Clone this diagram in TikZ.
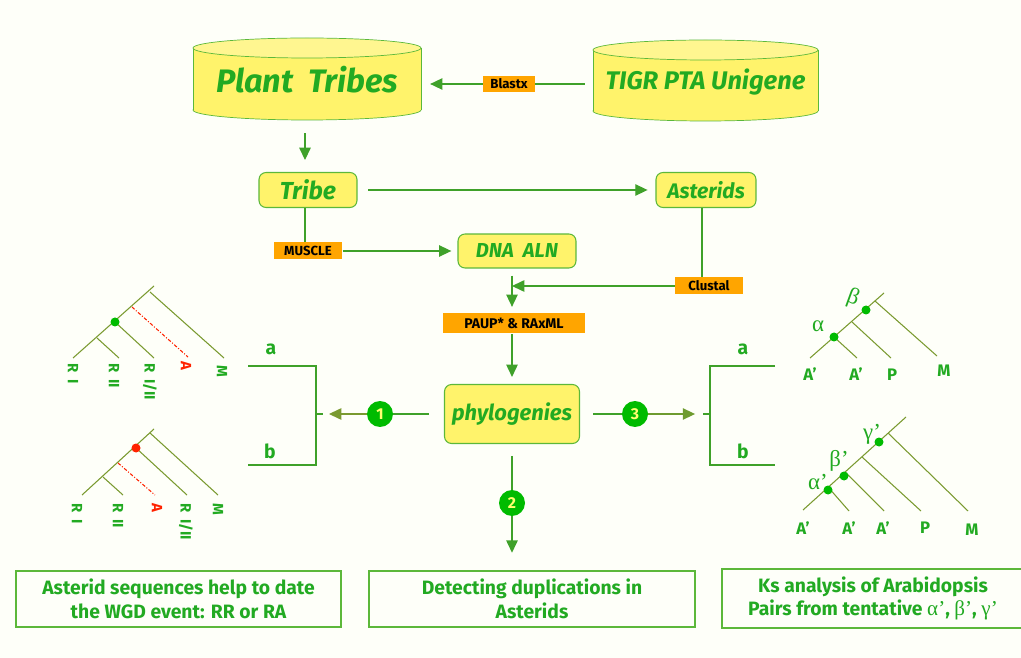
\documentclass[tikz,border=0pt]{standalone}
\usepackage{fontspec}
\setmainfont{Fira Sans}
\newfontfamily\greekfont{Liberation Serif}
\usetikzlibrary{arrows.meta}

\definecolor{bgcream}{HTML}{FEFFF9}
\definecolor{boxyellow}{HTML}{FFF36B}
\definecolor{boxedge}{HTML}{5CB83A}
\definecolor{txtgreen}{HTML}{22AA22}
\definecolor{flowgreen}{HTML}{3FA12A}
\definecolor{treeolive}{HTML}{7A9A30}
\definecolor{tagorange}{HTML}{FFA500}
\definecolor{dotgreen}{HTML}{00BB00}
\definecolor{dotred}{HTML}{FF2200}
\definecolor{numyellow}{HTML}{FFFF70}

\tikzset{
  title/.style={font=\bfseries\itshape, text=txtgreen},
  block/.style={title, draw=boxedge, fill=boxyellow, rounded corners=4pt, line width=0.6pt},
  tag/.style={fill=tagorange, text=black, font=\bfseries\fontsize{7.5}{9}\selectfont, inner sep=0pt},
  wire/.style={draw=flowgreen, line width=0.7pt},
  flow/.style={wire, -{Triangle[length=7pt,width=6.5pt]}},
  num/.style={circle, fill=dotgreen, text=numyellow, font=\bfseries\fontsize{9}{10}\selectfont, inner sep=0pt, minimum size=0.52cm},
  note/.style={draw=boxedge, line width=0.8pt, text=txtgreen, align=center, font=\bfseries\fontsize{11}{13.5}\selectfont},
  branch/.style={draw=treeolive, line width=0.6pt},
  leaf/.style={text=txtgreen, font=\bfseries\fontsize{8.5}{9}\selectfont, inner sep=1pt},
  tip/.style={leaf, font=\bfseries\fontsize{9.5}{10}\selectfont},
  sidelabel/.style={text=txtgreen, font=\bfseries\fontsize{11}{12}\selectfont},
  greek/.style={text=txtgreen, font=\greekfont\fontsize{13}{14}\selectfont, inner sep=0pt}
}

\begin{document}
\begin{tikzpicture}[x=0.02cm,y=-0.02cm]
\useasboundingbox (0,0) rectangle (1021,658);
\fill[bgcream] (0,0) rectangle (1021,658);

% data bases
\filldraw[fill=boxyellow, draw=boxedge] (307,110) ellipse (114 and 10);
\fill[boxyellow] (193,48) rectangle (421,110);
\draw[boxedge] (193,48) -- (193,110) (421,48) -- (421,110);
\filldraw[fill=boxyellow!75!white, draw=boxedge] (307,48) ellipse (114 and 10);
\node[title, font=\bfseries\itshape\fontsize{18.5}{20}\selectfont, minimum width=4.56cm, minimum height=1.64cm] (plant) at (307,80) {Plant~~Tribes};

\filldraw[fill=boxyellow, draw=boxedge] (705.5,111) ellipse (112.5 and 10);
\fill[boxyellow] (593,50) rectangle (818,111);
\draw[boxedge] (593,50) -- (593,111) (818,50) -- (818,111);
\filldraw[fill=boxyellow!75!white, draw=boxedge] (705.5,50) ellipse (112.5 and 10);
\node[title, font=\bfseries\itshape\fontsize{14.5}{16}\selectfont, minimum width=4.5cm, minimum height=1.62cm] (tigr) at (705.5,82) {TIGR~PTA~Unigene};

\node[tag, minimum width=1.04cm, minimum height=0.32cm] (blastx) at (509,84) {Blastx};
\draw[wire, shorten >=4.5pt] (blastx) -- (blastx -| tigr.west);
\draw[flow, shorten >=5pt] (blastx) -- (blastx -| plant.east);

% alignment steps
\node[block, font=\bfseries\itshape\fontsize{14}{15}\selectfont, minimum width=1.96cm, minimum height=0.7cm] (tribe) at (308,190) {Tribe};
\node[block, font=\bfseries\itshape\fontsize{12}{14}\selectfont, minimum width=2cm, minimum height=0.7cm] (asterids) at (706,190) {Asterids};
\node[block, font=\bfseries\itshape\fontsize{11.5}{14}\selectfont, minimum width=2.36cm, minimum height=0.68cm] (dna) at (517,251) {DNA~~ALN};
\node[tag, minimum width=1.38cm, minimum height=0.34cm] (muscle) at (308,251) {MUSCLE};
\node[tag, minimum width=1.36cm, minimum height=0.34cm] (clustal) at (709,286) {Clustal};
\node[tag, font=\bfseries\fontsize{8}{9}\selectfont, minimum width=2.84cm, minimum height=0.42cm] (paup) at (514,323) {PAUP*~\&~RAxML};
\node[block, font=\bfseries\itshape\fontsize{12.5}{14}\selectfont, minimum width=2.7cm, minimum height=1.18cm] (phylo) at (512,414) {phylogenies};

\draw[flow, shorten <=6.8pt, shorten >=6.8pt] (plant.south -| 305,0) -- (tribe.north -| 305,0);
\draw[flow, shorten <=6pt, shorten >=4.5pt] (tribe) -- (asterids);
\draw[wire] (tribe.south -| 305,0) -- (muscle.north -| 305,0);
\draw[flow, shorten >=3.5pt] (muscle) -- (muscle -| dna.west);
\draw[wire] (asterids.south -| 702,0) -- (clustal.north -| 702,0);
\coordinate (join) at (512,286);
\draw[flow] (clustal) -- (join);
\draw[flow, shorten <=4pt, shorten >=3pt] (dna.south -| join) -- (paup.north -| join);
\draw[flow, shorten >=4pt] (paup.south -| join) -- (phylo.north -| join);

% three outcomes
\node[num] (one) at (380,414) {1};
\node[num] (two) at (512,503) {2};
\node[num] (three) at (635,414) {3};
\coordinate (lhook) at (316,414);
\coordinate (la) at (248,366);
\coordinate (lb) at (248,465);
\coordinate (rhook) at (710,414);
\coordinate (ra) at (775,366);
\coordinate (rb) at (775,465);

\draw[wire, shorten <=8.5pt] (phylo.west) -- (one);
\draw[flow, draw=treeolive, shorten >=7.4pt] (one) -- (lhook);
\draw[wire] (lhook) -- +(7,0);
\draw[wire] (la) -| (lhook) |- (lb);
\draw[wire, shorten <=7.4pt] (phylo.east) -- (three);
\draw[flow, draw=treeolive!80!flowgreen, shorten >=8.5pt] (three) -- (rhook);
\draw[wire] (rhook) -- +(-7,0);
\draw[wire] (ra) -| (rhook) |- (rb);
\draw[wire, shorten <=6.8pt] (phylo) -- (two);

\node[sidelabel] (lta) at (271,349) {a};
\node[sidelabel] (ltb) at (270,451) {b};
\node[sidelabel] (rta) at (743,349) {a};
\node[sidelabel] (rtb) at (743,451) {b};

\node[note, minimum width=6.5cm, minimum height=1.12cm] (date) at (178.5,599) {Asterid sequences help to date\\the WGD event: RR or RA};
\node[note, minimum width=6.52cm, minimum height=1.12cm] (dup) at (532,599) {Detecting duplications in\\Asterids};
\node[note, minimum width=6.04cm, minimum height=1.18cm] (ks) at (873,598.5) {Ks analysis of Arabidopsis\\Pairs from tentative {\mdseries\greekfont\fontsize{12}{13.5}\selectfont α’}, {\mdseries\greekfont\fontsize{12}{13.5}\selectfont β’}, {\mdseries\greekfont\fontsize{12}{13.5}\selectfont γ’}};
\draw[flow, shorten >=10pt] (two) -- (two |- dup.north);

% tree a, left
\draw[branch] (73,358) -- (154,286);
\draw[branch] (97,338) -- (119,358) (115,322) -- (154,358) (150,292) -- (224,358);
\draw[branch, draw=dotred, dash pattern=on 2pt off 1pt on 0.6pt off 1pt] (132,307) -- (188,357);
\fill[dotgreen] (115,322) circle (4.5);
\node[leaf, rotate=-90, anchor=west] (a1) at (73,361) {R~~I};
\node[leaf, rotate=-90, anchor=west] (a2) at (114,361) {R~~II};
\node[leaf, rotate=-90, anchor=west] (a3) at (150,361) {R~~I/II};
\node[leaf, rotate=-90, anchor=west, text=dotred] (a4) at (186,359) {A};
\node[leaf, rotate=-90, anchor=west] (a5) at (222,363) {M};

% tree b, left
\draw[branch] (82,495) -- (154,429);
\draw[branch] (103,477) -- (123,495) (136,448) -- (187,495) (150,433) -- (218,495);
\draw[branch, draw=dotred, dash pattern=on 2pt off 1pt on 0.6pt off 1pt] (118,463) -- (155,495);
\fill[dotred] (136,448) circle (4.5);
\node[leaf, rotate=-90, anchor=west] (b1) at (77,501) {R~~I};
\node[leaf, rotate=-90, anchor=west] (b2) at (118,501) {R~~II};
\node[leaf, rotate=-90, anchor=west, text=dotred] (b3) at (157,501) {A};
\node[leaf, rotate=-90, anchor=west] (b4) at (186,501) {R~~I/II};
\node[leaf, rotate=-90, anchor=west] (b5) at (218,501) {M};

% tree a, right
\draw[branch] (810,358) -- (884,293);
\draw[branch] (834,337) -- (857,358) (852,322) -- (891,358) (875,301) -- (937,356);
\fill[dotgreen] (834,337) circle (4.5);
\fill[dotgreen] (866,310) circle (4.5);
\node[tip] (c1) at (810,374) {A’};
\node[tip] (c2) at (856,374) {A’};
\node[tip] (c3) at (892,375) {P};
\node[tip] (c4) at (944,371) {M};
\node[greek] (ga) at (818,326) {α};
\node[greek, rotate=-20] (gb) at (853,298) {β};

% tree b, right
\draw[branch] (803,510) -- (906,417);
\draw[branch] (828,487) -- (849,511) (845,472) -- (884,511) (862,457) -- (921,511) (888,433) -- (968,511);
\fill[dotgreen] (828,490) circle (4.5);
\fill[dotgreen] (844,476) circle (4.5);
\fill[dotgreen] (879,442) circle (4.5);
\node[tip] (d1) at (803,528) {A’};
\node[tip] (d2) at (849,528) {A’};
\node[tip] (d3) at (883,528) {A’};
\node[tip] (d4) at (925,528) {P};
\node[tip] (d5) at (972,530) {M};
\node[greek] (gd1) at (818,482) {α’};
\node[greek] (gd2) at (839,461) {β’};
\node[greek] (gd3) at (872,434) {γ’};
\end{tikzpicture}
\end{document}
